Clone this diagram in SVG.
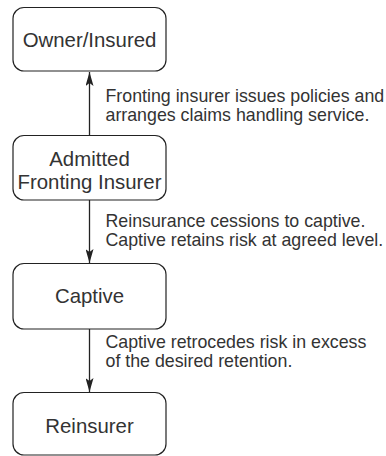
<svg xmlns="http://www.w3.org/2000/svg" width="386" height="456" viewBox="0 0 386 456">
  <defs>
    <style>
      .node rect { fill: #ffffff; stroke: #222222; stroke-width: 1.2; }
      .node text { font-family: "Liberation Sans", Arial, sans-serif; font-size: 20.4px; fill: #333333; text-anchor: middle; }
      .label { font-family: "Liberation Sans", Arial, sans-serif; font-size: 17.8px; fill: #333333; }
      .edge { stroke: #222222; stroke-width: 1.3; fill: none; }
    </style>
    <marker id="arrow" viewBox="0 0 14 8" refX="14" refY="4" markerWidth="14" markerHeight="8" markerUnits="userSpaceOnUse" orient="auto">
      <path d="M0,0 L14,4 L0,8 L3,4 Z" fill="#222222"/>
    </marker>
  </defs>
  <rect width="386" height="456" fill="#ffffff"/>

  <g id="connectors">
    <line class="edge" x1="89.5" y1="135" x2="89.5" y2="72" marker-end="url(#arrow)"/>
    <line class="edge" x1="89.5" y1="200" x2="89.5" y2="263" marker-end="url(#arrow)"/>
    <line class="edge" x1="89.5" y1="329" x2="89.5" y2="392" marker-end="url(#arrow)"/>
    <text class="label" x="105.5" y="102">Fronting insurer issues policies and</text>
    <text class="label" x="105.5" y="121">arranges claims handling service.</text>
    <text class="label" x="105.5" y="227">Reinsurance cessions to captive.</text>
    <text class="label" x="105.5" y="246">Captive retains risk at agreed level.</text>
    <text class="label" x="105.5" y="348">Captive retrocedes risk in excess</text>
    <text class="label" x="105.5" y="367">of the desired retention.</text>
  </g>

  <g id="owner" class="node">
    <rect x="13" y="7.5" width="153" height="63.5" rx="11"/>
    <text x="89.5" y="47">Owner/Insured</text>
  </g>
  <g id="fronting" class="node">
    <rect x="13" y="135.5" width="153" height="64.5" rx="11"/>
    <text x="89.5" y="165.5">Admitted</text>
    <text x="89.5" y="189">Fronting Insurer</text>
  </g>
  <g id="captive" class="node">
    <rect x="13" y="263.5" width="153" height="65.5" rx="11"/>
    <text x="89.5" y="303">Captive</text>
  </g>
  <g id="reinsurer" class="node">
    <rect x="13" y="392.5" width="153" height="62.5" rx="11"/>
    <text x="89.5" y="433">Reinsurer</text>
  </g>
</svg>
